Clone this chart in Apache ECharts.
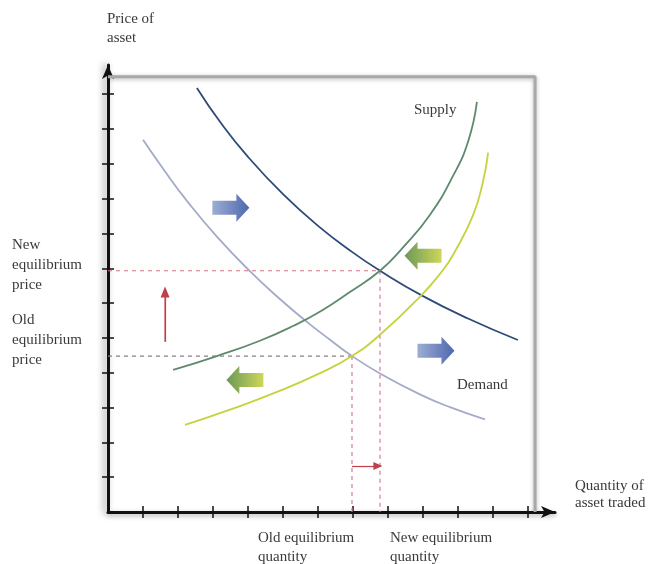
<!DOCTYPE html>
<html>
<head>
<meta charset="utf-8">
<script src="https://cdn.jsdelivr.net/npm/echarts@6/dist/echarts.min.js"></script>
<style>html,body{margin:0;padding:0;background:#fff}#chart{width:651px;height:564px}</style>
</head>
<body>
<div id="chart"></div>
<script>
// ---- data (axis units: one tick = 1) ----
const xTicks = [1,2,3,4,5,6,7,8,9,10,11,12];
const yTicks = [1,2,3,4,5,6,7,8,9,10,11,12];
const xMax = 12.77, yMax = 12.84;
const frame = [[0,12.5],[12.2,12.5],[12.2,0]];

const oldDemand = [[1.00,10.69],[1.63,9.78],[2.26,8.93],[3.11,7.91],[4.06,6.91],[5.00,6.04],[5.77,5.39],[6.34,4.95],[6.97,4.48],[7.77,3.98],[8.91,3.38],[9.77,3.01],[10.77,2.66]];
const newDemand = [[2.54,12.18],[3.20,11.21],[4.00,10.20],[5.00,9.13],[6.00,8.22],[7.00,7.45],[7.77,6.93],[9.00,6.20],[10.30,5.55],[11.71,4.94]];
const newSupply = [[1.86,4.08],[3.11,4.48],[4.34,4.92],[5.30,5.35],[6.10,5.78],[6.90,6.31],[7.77,6.93],[8.43,7.60],[9.20,8.54],[9.86,9.66],[10.29,10.65],[10.54,11.78]];
const oldSupply = [[2.20,2.50],[3.40,2.91],[4.83,3.45],[6.06,3.99],[6.97,4.48],[7.77,5.09],[8.91,6.18],[9.57,6.95],[9.86,7.39],[10.43,8.53],[10.71,9.48],[10.86,10.32]];

const oldEq = [6.97, 4.48];
const newEq = [7.77, 6.93];

const demandShiftArrows = [[3.51,8.74],[9.37,4.63]];
const supplyShiftArrows = [[9.00,7.36],[3.91,3.79]];
const priceArrow = [[1.63,4.89],[1.63,6.32]];
const qtyArrow = [[6.97,1.32],[7.71,1.32]];

// ---- chart ----
const serif = '"Liberation Serif", "DejaVu Serif", serif';
const txt = '#3a3a3a';
const chart = echarts.init(document.getElementById('chart'));

const rightArrow = 'path://M0,7 L24,7 L24,0 L37,14 L24,28 L24,21 L0,21 Z';
const leftArrow = 'path://M37,7 L13,7 L13,0 L0,14 L13,28 L13,21 L37,21 Z';

function axisBase(extra) {
  return Object.assign({
    type: 'value', min: 0, splitLine: {show: false},
    axisLabel: {show: false}
  }, extra);
}
const tickStyle = {color: '#111', width: 1.5};

const option = {
  animation: false,
  backgroundColor: '#fff',
  grid: {left: 108, right: 96, top: 65, bottom: 52, containLabel: false},
  xAxis: [
    axisBase({max: xMax, position: 'bottom',
      axisLine: {show: true, symbol: ['none', 'arrow'], symbolSize: [9, 14],
        lineStyle: {color: '#111', width: 3, shadowColor: 'rgba(0,0,0,0.35)', shadowBlur: 5, shadowOffsetY: 2}},
      axisTick: {show: false}}),
    axisBase({max: xMax, position: 'bottom', offset: -6,
      axisLine: {show: false, onZero: false},
      axisTick: {show: true, inside: false, customValues: xTicks, length: 12, lineStyle: tickStyle}})
  ],
  yAxis: [
    axisBase({max: yMax, position: 'left',
      axisLine: {show: true, symbol: ['none', 'arrow'], symbolSize: [9, 14],
        lineStyle: {color: '#111', width: 3, shadowColor: 'rgba(0,0,0,0.45)', shadowBlur: 7, shadowOffsetX: -3}},
      axisTick: {show: false}}),
    axisBase({max: yMax, position: 'left', offset: -6,
      axisLine: {show: false, onZero: false},
      axisTick: {show: true, inside: false, customValues: yTicks, length: 12, lineStyle: tickStyle}})
  ],
  series: [
    {type: 'line', data: frame, symbol: 'none', silent: true,
      lineStyle: {color: '#a8a8a8', width: 3, shadowColor: 'rgba(0,0,0,0.3)', shadowBlur: 4, shadowOffsetY: 1}},
    // dashed guide lines
    {type: 'line', data: [[0, newEq[1]], newEq], symbol: 'none',
      lineStyle: {color: '#d9707e', width: 1.2, type: [4, 4]}},
    {type: 'line', data: [newEq, [newEq[0], 0]], symbol: 'none',
      lineStyle: {color: '#d27a98', width: 1.2, type: [4, 4]}},
    {type: 'line', data: [[0, oldEq[1]], oldEq], symbol: 'none',
      lineStyle: {color: '#8e7c86', width: 1.2, type: [4, 4]}},
    {type: 'line', data: [oldEq, [oldEq[0], 0]], symbol: 'none',
      lineStyle: {color: '#d27a98', width: 1.2, type: [4, 4]}},
    // curves
    {name: 'Old demand', type: 'line', data: oldDemand, smooth: 0.5, symbol: 'none',
      lineStyle: {color: '#a3abc8', width: 1.8}},
    {name: 'New demand', type: 'line', data: newDemand, smooth: 0.5, symbol: 'none',
      lineStyle: {color: '#2d4a78', width: 1.8}},
    {name: 'New supply', type: 'line', data: newSupply, smooth: 0.5, symbol: 'none',
      lineStyle: {color: '#5e8a6c', width: 1.8}},
    {name: 'Old supply', type: 'line', data: oldSupply, smooth: 0.5, symbol: 'none',
      lineStyle: {color: '#c6d23e', width: 1.8}},
    // shift arrows
    {type: 'scatter', data: demandShiftArrows, symbol: rightArrow, symbolSize: [37, 28],
      itemStyle: {color: new echarts.graphic.LinearGradient(0, 0, 1, 0, [
        {offset: 0, color: '#8498c8'}, {offset: 1, color: '#22429c'}])}},
    {type: 'scatter', data: supplyShiftArrows, symbol: leftArrow, symbolSize: [37, 28],
      itemStyle: {color: new echarts.graphic.LinearGradient(0, 0, 1, 0, [
        {offset: 0, color: '#467f2e'}, {offset: 1, color: '#c2cc30'}])}},
    // red arrows
    {type: 'line', data: priceArrow, symbol: 'none', showSymbol: false,
      lineStyle: {color: '#c0404a', width: 1.2},
      markLine: {silent: true, symbol: ['none', 'triangle'], symbolSize: [9, 11], label: {show: false},
        lineStyle: {color: '#c0404a', width: 1.2, type: 'solid'},
        data: [[{coord: priceArrow[0]}, {coord: priceArrow[1]}]]}},
    {type: 'line', data: qtyArrow, symbol: 'none', showSymbol: false,
      lineStyle: {color: '#c0404a', width: 1.2, opacity: 0},
      markLine: {silent: true, symbol: ['none', 'triangle'], symbolSize: [8, 9], label: {show: false},
        lineStyle: {color: '#c0404a', width: 1.2, type: 'solid'},
        data: [[{coord: qtyArrow[0]}, {coord: qtyArrow[1]}]]}}
  ],
  graphic: [
    {type: 'text', left: 107, top: 10, style: {text: 'Price of\nasset', font: '15px ' + serif, fill: txt, lineHeight: 19}},
    {type: 'text', left: 12, top: 235, style: {text: 'New\nequilibrium\nprice', font: '15px ' + serif, fill: txt, lineHeight: 20}},
    {type: 'text', left: 12, top: 310, style: {text: 'Old\nequilibrium\nprice', font: '15px ' + serif, fill: txt, lineHeight: 20}},
    {type: 'text', left: 258, top: 529, style: {text: 'Old equilibrium\nquantity', font: '15px ' + serif, fill: txt, lineHeight: 19}},
    {type: 'text', left: 390, top: 529, style: {text: 'New equilibrium\nquantity', font: '15px ' + serif, fill: txt, lineHeight: 19}},
    {type: 'text', left: 575, top: 478, style: {text: 'Quantity of\nasset traded', font: '15px ' + serif, fill: txt, lineHeight: 17}},
    {type: 'text', left: 414, top: 103, style: {text: 'Supply', font: '15px ' + serif, fill: txt}},
    {type: 'text', left: 457, top: 378, style: {text: 'Demand', font: '15px ' + serif, fill: txt}}
  ]
};
chart.setOption(option);
</script>
</body>
</html>
